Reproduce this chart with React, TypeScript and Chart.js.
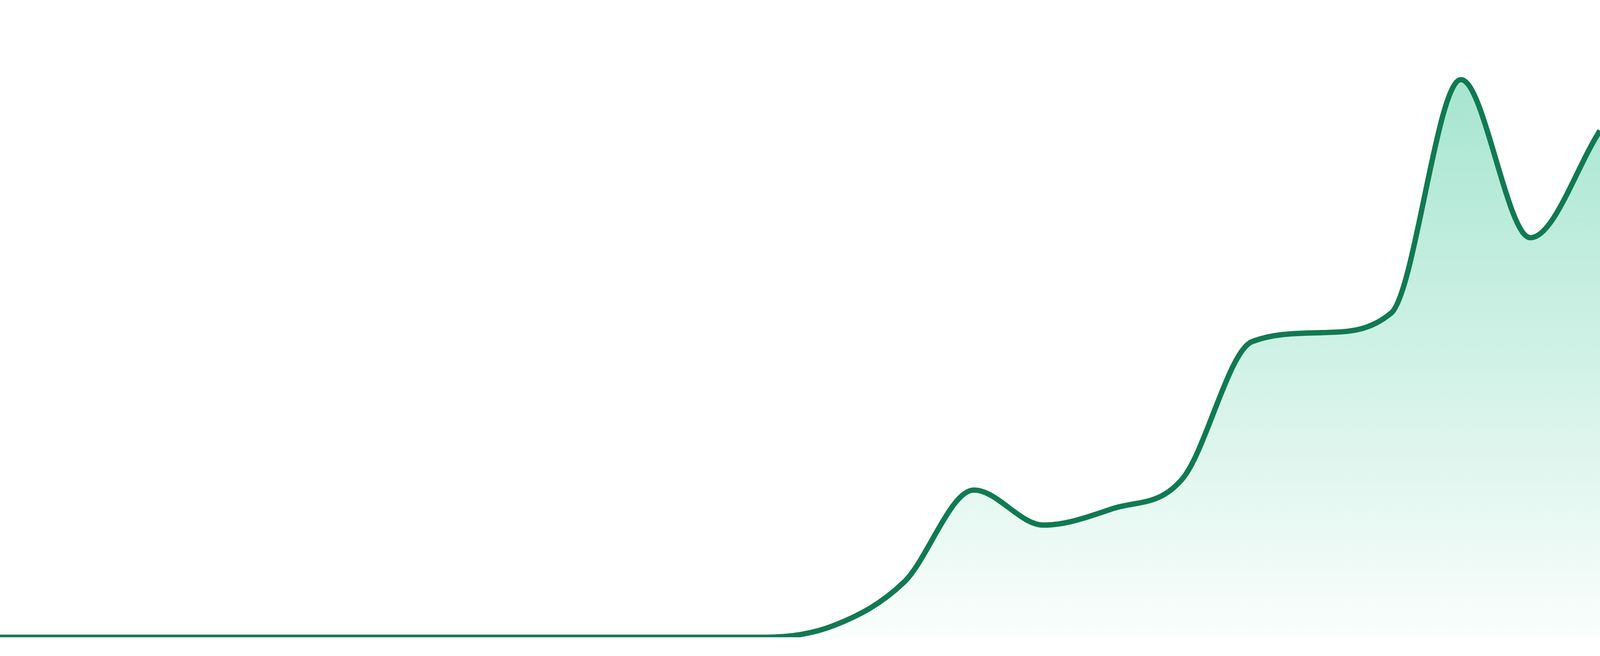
import { useEffect, useRef } from "react"
import { Chart, registerables } from "chart.js"

Chart.register(...registerables)

// 24 evenly spaced samples, the first twelve sit on zero
const labels = [
  "01", "02", "03", "04", "05", "06", "07", "08", "09", "10", "11", "12",
  "13", "14", "15", "16", "17", "18", "19", "20", "21", "22", "23", "24",
]

const values = [
  0, 0, 0, 0, 0, 0, 0, 0, 0, 0, 0, 0,
  19, 87, 231, 176, 202, 249, 464, 478, 509, 875, 627, 795,
]

const yMin = 0
const yMax = 1000

const lineColor = "#117a52"

const App = () => {
  const canvasRef = useRef<HTMLCanvasElement>(null)
  const chartRef = useRef<Chart | null>(null)

  useEffect(() => {
    document.documentElement.style.margin = "0"
    document.body.style.margin = "0"
    document.body.style.overflow = "hidden"
    if (!canvasRef.current) return
    const ctx = canvasRef.current.getContext("2d")
    if (!ctx) return

    if (chartRef.current) chartRef.current.destroy()

    // sizes are taken from the 4800x1680 reference and scaled to the viewport
    const kx = window.innerWidth / 4800
    const ky = window.innerHeight / 1680

    chartRef.current = new Chart(ctx, {
      type: "line",
      data: {
        labels,
        datasets: [
          {
            data: values,
            borderColor: lineColor,
            borderWidth: 16 * kx,
            pointRadius: 0,
            cubicInterpolationMode: "monotone",
            fill: "origin",
            clip: 0,
            backgroundColor: (c: any) => {
              const area = c.chart.chartArea
              if (!area) return "rgba(16,185,129,0.2)"
              const g = c.chart.ctx.createLinearGradient(0, area.top, 0, area.bottom)
              g.addColorStop(0, "rgba(16,185,129,0.42)")
              g.addColorStop(1, "rgba(16,185,129,0.02)")
              return g
            },
          },
        ],
      },
      options: {
        responsive: true,
        maintainAspectRatio: false,
        animation: false,
        layout: { padding: { top: 0, right: 0, bottom: 48 * ky, left: 0 } },
        plugins: {
          legend: { display: false },
          tooltip: { enabled: false },
        },
        scales: {
          x: { display: false, offset: false },
          y: { display: false, min: yMin, max: yMax },
        },
      },
    })

    return () => {
      if (chartRef.current) {
        chartRef.current.destroy()
        chartRef.current = null
      }
    }
  }, [])

  return (
    <div style={{ width: "100vw", height: "100vh", position: "relative", background: "#fff" }}>
      <canvas ref={canvasRef} />
    </div>
  )
}

export default App
